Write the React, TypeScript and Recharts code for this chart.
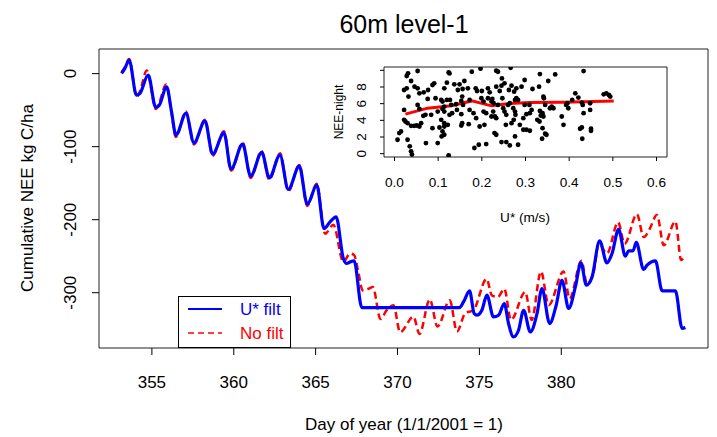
import React from 'react'
import { LineChart, Line, ComposedChart, Scatter, XAxis, YAxis, ReferenceArea } from 'recharts'

// cumulative NEE, U* filtered (day of year, kg C/ha)
const blueDays = [353.15, 353.35, 353.61, 354.06, 354.27, 354.77, 355.24, 355.45, 355.9, 356.2, 356.47, 357.08, 357.57, 358.24, 358.71, 359.4, 359.83, 360.54, 361.03, 361.71, 362.17, 362.82, 363.33, 364.0, 364.49, 365.07, 365.51, 365.88, 366.25, 366.69, 366.9, 367.1, 367.35, 367.82, 373.78, 374.03, 374.4, 374.68, 374.85, 375.15, 375.46, 375.86, 376.17, 376.52, 376.78, 377.08, 377.39, 377.7, 378.11, 378.52, 378.82, 379.29, 379.69, 380.04, 380.45, 380.86, 381.2, 381.53, 381.88, 382.34, 382.79, 383.1, 383.5, 383.91, 384.11, 384.38, 384.58, 385.03, 385.24, 385.75, 386.16, 386.97, 387.38, 387.58]
const blueNee = [0.3, 7.1, 18.5, -29.5, -27.1, -2.1, -46.3, -43.2, -18.1, -52.3, -84.2, -54.5, -94.8, -64.7, -110.3, -81.1, -130.8, -96.6, -140.4, -107.9, -142.7, -111.6, -158.6, -126.7, -178.8, -152.7, -212.1, -203, -196.2, -253.2, -260, -257.8, -256.4, -320.3, -320.3, -312.6, -297.5, -328.5, -330.8, -324, -303.4, -333.2, -330.8, -314.8, -342.2, -360.5, -351.4, -324, -353.7, -328.5, -294.2, -342.2, -317.1, -282.9, -321.6, -292.1, -259.2, -289.7, -278.4, -229, -259.2, -246.3, -213.4, -250, -242.7, -242.7, -231.2, -268.2, -262.3, -256.4, -297.5, -297.5, -349, -347.7]

// cumulative NEE, no filter
const redDays = [353.15, 353.35, 353.61, 354.07, 354.26, 354.69, 355.25, 355.44, 355.87, 356.2, 356.46, 357.08, 357.57, 358.24, 358.71, 359.4, 359.84, 360.55, 361.03, 361.69, 362.17, 362.83, 363.33, 364.0, 364.49, 365.06, 365.58, 366.08, 366.69, 367.11, 367.35, 367.61, 367.87, 368.22, 368.49, 368.96, 369.34, 369.75, 370.16, 370.97, 371.34, 371.97, 372.44, 373.19, 373.63, 374.13, 374.64, 375.44, 375.76, 376.13, 376.52, 376.93, 377.8, 378.19, 378.76, 379.23, 380.14, 380.51, 381.23, 381.57, 381.98, 382.29, 382.79, 383.47, 383.87, 384.62, 385.03, 385.4, 385.84, 386.26, 386.97, 387.32, 387.53]
const redNee = [2, 8.7, 19.9, -31.7, -25, 4.2, -48.6, -40.7, -14.9, -54.2, -86.8, -52, -96.9, -63.2, -112.6, -78.9, -132.8, -94.6, -142.9, -105.9, -145.2, -109.2, -160.9, -125, -181.1, -150.8, -219.3, -207, -257.5, -246.3, -248.5, -272.1, -296.8, -294.6, -292.3, -336.1, -323.8, -317.1, -354.1, -332.8, -356.4, -309.2, -346.3, -310.3, -353, -328.3, -323.8, -281.1, -303.6, -305.8, -294.6, -337.3, -299.1, -337.3, -271, -317, -271, -308.1, -256.4, -287.8, -271, -232.8, -246.3, -203.6, -232.8, -192.4, -223.8, -212.6, -193.5, -235.1, -202.5, -255.3, -249.6]

const dayTicks = [355, 360, 365, 370, 375, 380]
const neeTicks = [0, -100, -200, -300]

// inset: night NEE against U*
const scatterU = [0.031, 0.028, 0.053, 0.124, 0.126, 0.177, 0.197, 0.233, 0.237, 0.266, 0.246, 0.333, 0.368, 0.433, 0.298, 0.352,
  0.022, 0.028, 0.038, 0.046, 0.053, 0.057, 0.067, 0.077, 0.087, 0.091, 0.114, 0.12, 0.137, 0.149, 0.16, 0.145, 0.156, 0.168, 0.186, 0.189, 0.2, 0.214, 0.218, 0.233, 0.241, 0.245, 0.252, 0.262, 0.268, 0.274, 0.279, 0.291, 0.316, 0.331, 0.414, 0.421, 0.479, 0.485, 0.491, 0.494,
  0.032, 0.076, 0.094, 0.107, 0.11, 0.114, 0.12, 0.127, 0.13, 0.141, 0.153, 0.155, 0.157, 0.172, 0.199, 0.204, 0.214, 0.224, 0.222, 0.227, 0.237, 0.247, 0.26, 0.264, 0.276, 0.279, 0.283, 0.298, 0.309, 0.341, 0.342, 0.345, 0.356, 0.36, 0.364, 0.393, 0.398, 0.396, 0.407, 0.429, 0.448,
  0.022, 0.053, 0.057, 0.066, 0.071, 0.084, 0.099, 0.11, 0.114, 0.126, 0.132, 0.143, 0.153, 0.172, 0.181, 0.204, 0.21, 0.222, 0.226, 0.233, 0.249, 0.252, 0.256, 0.272, 0.276, 0.277, 0.295, 0.302, 0.31, 0.314, 0.333, 0.335, 0.339, 0.341, 0.383, 0.433, 0.431, 0.448,
  0.022, 0.025, 0.03, 0.038, 0.045, 0.051, 0.057, 0.061, 0.087, 0.103, 0.107, 0.114, 0.114, 0.122, 0.153, 0.155, 0.17, 0.187, 0.195, 0.206, 0.23, 0.255, 0.268, 0.273, 0.287, 0.295, 0.302, 0.31, 0.327, 0.332, 0.339, 0.387, 0.425, 0.429,
  0.011, 0.015, 0.03, 0.072, 0.099, 0.108, 0.11, 0.114, 0.229, 0.233, 0.245, 0.276, 0.345, 0.348, 0.43, 0.45, 0.45,
  0.007, 0.035, 0.038, 0.04, 0.124, 0.183, 0.193, 0.21, 0.264, 0.256, 0.283, 0.338]
const scatterNee = [9.64, 9.32, 9.92, 9.75, 9.63, 9.83, 10.2, 9.95, 9.83, 10.3, 9.03, 9.55, 9.51, 9.91, 8.84, 8.72,
  7.64, 7.84, 8.72, 8.04, 7.84, 7.24, 7.36, 7.64, 8.24, 8.44, 7.84, 8.52, 8.32, 8.32, 8.72, 7.64, 7.76, 7.84, 7.84, 7.52, 7.52, 7.84, 7.36, 8.04, 7.52, 8.16, 8.44, 7.64, 8.16, 7.44, 7.84, 8.04, 7.76, 8.04, 7.24, 6.73, 7.12, 7.24, 7.04, 6.85,
  6.85, 6.57, 6.65, 6.45, 6.25, 5.65, 6.45, 6.45, 5.85, 5.93, 6.33, 6.85, 5.85, 6.45, 6.65, 6.25, 6.65, 6.57, 6.25, 6.05, 5.85, 6.65, 5.85, 6.05, 6.45, 6.65, 6.45, 5.85, 5.85, 6.85, 6.65, 5.85, 5.45, 5.65, 5.45, 5.85, 5.45, 6.05, 6.45, 6.13, 6.05,
  5.25, 5.85, 5.37, 4.54, 4.66, 4.66, 5.05, 5.37, 5.05, 4.66, 4.86, 5.25, 4.74, 5.25, 4.86, 5.05, 4.86, 4.46, 5.05, 4.26, 5.45, 5.05, 4.66, 5.45, 5.05, 4.66, 4.26, 4.74, 4.86, 5.25, 5.13, 4.58, 4.86, 4.46, 4.46, 4.86, 5.85, 5.25,
  4.06, 3.86, 3.66, 3.34, 3.34, 3.38, 3.26, 3.66, 3.06, 3.14, 4.06, 3.66, 3.26, 3.46, 3.38, 3.66, 3.54, 4.26, 3.26, 3.46, 4.46, 3.46, 3.66, 4.06, 3.46, 2.87, 2.87, 2.75, 4.06, 3.86, 3.06, 3.46, 2.99, 3.14,
  2.47, 2.67, 1.67, 1.27, 1.27, 2.07, 2.67, 2.27, 2.47, 2.27, 1.39, 2.07, 2.39, 2.27, 1.79, 2.99, 2.75,
  1.67, 0.88, 0.28, -0.1, -0.2, 0.68, 1.07, 1.15, 0.99, 1.39, 1.07, 1.79]

const smoothU = [0.025, 0.076, 0.13, 0.177, 0.222, 0.264, 0.31, 0.387, 0.502]
const smoothNee = [4.74, 5.46, 5.74, 6.33, 5.74, 6.02, 6.14, 6.18, 6.33]
const uTicks = [0, 0.1, 0.2, 0.3, 0.4, 0.5, 0.6]
const neeNightTicks = [0, 2, 4, 6, 8, 10]

const blueData = blueDays.map((d, i) => ({ day: d, v: blueNee[i] }))
const redData = redDays.map((d, i) => ({ day: d, v: redNee[i] }))
const scatterData = scatterU.map((u, i) => ({ u, nee: scatterNee[i] }))
const smoothData = smoothU.map((u, i) => ({ u, nee: smoothNee[i] }))

const FONT = '"Liberation Sans", Arial, sans-serif'
const X_DOMAIN: [number, number] = [351.77, 388.96]
const Y_DOMAIN: [number, number] = [-375.7, 33.7]
const U_DOMAIN: [number, number] = [-0.024, 0.624]
const N_DOMAIN: [number, number] = [-0.4, 10.4]

const DayTick = ({ x, payload }: any) => (
  <text x={x} y={388} textAnchor="middle" fontSize={17} fill="#000" fontFamily={FONT}>{payload.value}</text>
)
const NeeTick = ({ y, payload }: any) => (
  <text x={76} y={y} transform={`rotate(-90 76 ${y})`} textAnchor="middle" fontSize={17} fill="#000" fontFamily={FONT}>{payload.value}</text>
)
const UTick = ({ x, payload }: any) => (
  <text x={x} y={187} textAnchor="middle" fontSize={13.6} fill="#000" fontFamily={FONT}>{payload.value.toFixed(1)}</text>
)
const NightTick = ({ y, payload }: any) =>
  payload.value === 10 ? <g /> : (
    <text x={366} y={y} transform={`rotate(-90 366 ${y})`} textAnchor="middle" fontSize={13.6} fill="#000" fontFamily={FONT}>{payload.value}</text>
  )

const Dot = ({ cx, cy }: any) => <circle cx={cx} cy={cy} r={2.4} fill="#000" />

export default function App() {
  return (
    <div style={{ position: 'fixed', left: 0, top: 0, width: 717, height: 437, background: '#fff', fontFamily: FONT }}>
      <style>{'body{margin:0}'}</style>
      <div style={{ position: 'absolute', left: 0, top: 0 }}>
        <LineChart width={717} height={437} margin={{ top: 49, right: 9, bottom: 39, left: 39 }}>
          <XAxis type="number" dataKey="day" domain={X_DOMAIN} ticks={dayTicks} allowDataOverflow interval={0}
            axisLine={false} tickLine={{ stroke: '#000' }} tickSize={7} height={50} tick={<DayTick />} />
          <YAxis type="number" domain={Y_DOMAIN} ticks={neeTicks} allowDataOverflow width={60} interval={0}
            axisLine={false} tickLine={{ stroke: '#000' }} tickSize={7} tick={<NeeTick />} />
          <ReferenceArea x1={X_DOMAIN[0]} x2={X_DOMAIN[1]} y1={Y_DOMAIN[0]} y2={Y_DOMAIN[1]} fill="none" fillOpacity={0} stroke="#222" strokeWidth={1} />
          <Line data={redData} dataKey="v" type="monotone" stroke="#ff0000" strokeWidth={2.5} strokeDasharray="7 4" dot={false} isAnimationActive={false} />
          <Line data={blueData} dataKey="v" type="monotone" stroke="#0000ff" strokeWidth={3.2} dot={false} isAnimationActive={false} />
        </LineChart>
      </div>
      <div style={{ position: 'absolute', left: 0, top: 0 }}>
        <ComposedChart width={717} height={437} margin={{ top: 67, right: 50, bottom: 250, left: 354 }}>
          <XAxis type="number" dataKey="u" domain={U_DOMAIN} ticks={uTicks} allowDataOverflow interval={0}
            axisLine={false} tickLine={{ stroke: '#000' }} tickSize={4} height={30} tick={<UTick />} />
          <YAxis type="number" dataKey="nee" domain={N_DOMAIN} ticks={neeNightTicks} allowDataOverflow width={30} interval={0}
            axisLine={false} tickLine={{ stroke: '#000' }} tickSize={4} tick={<NightTick />} />
          <ReferenceArea x1={U_DOMAIN[0]} x2={U_DOMAIN[1]} y1={N_DOMAIN[0]} y2={N_DOMAIN[1]} fill="none" fillOpacity={0} stroke="#222" strokeWidth={1} />
          <Scatter data={scatterData} dataKey="nee" fill="#000" shape={<Dot />} isAnimationActive={false} />
          <Line data={smoothData} dataKey="nee" type="linear" stroke="#ff0000" strokeWidth={3} dot={false} isAnimationActive={false} />
        </ComposedChart>
      </div>
      <svg width={717} height={437} style={{ position: 'absolute', left: 0, top: 0, pointerEvents: 'none' }} fontFamily={FONT}>
        <text x={404} y={33} textAnchor="middle" fontSize={25} fill="#000">60m level-1</text>
        <text x={404} y={430} textAnchor="middle" fontSize={17} fill="#000">Day of year (1/1/2001 = 1)</text>
        <text x={33} y={198} transform="rotate(-90 33 198)" textAnchor="middle" fontSize={17} fill="#000">Cumulative NEE kg C/ha</text>
        <text x={343} y={112} transform="rotate(-90 343 112)" textAnchor="middle" fontSize={12} fill="#000">NEE-night</text>
        <text x={525} y={222} textAnchor="middle" fontSize={13.6} fill="#000">U* (m/s)</text>
        <rect x={178.5} y={296.5} width={112} height={51} fill="#fff" stroke="#000" strokeWidth={1} />
        <line x1={188} y1={309} x2={222} y2={309} stroke="#0000ff" strokeWidth={2} />
        <text x={240} y={315} fontSize={17} fill="#0000ff">U* filt</text>
        <line x1={188} y1={333} x2={222} y2={333} stroke="#ff0000" strokeWidth={1.5} strokeDasharray="6 4" />
        <text x={240} y={339} fontSize={17} fill="#ff0000">No filt</text>
      </svg>
    </div>
  )
}
